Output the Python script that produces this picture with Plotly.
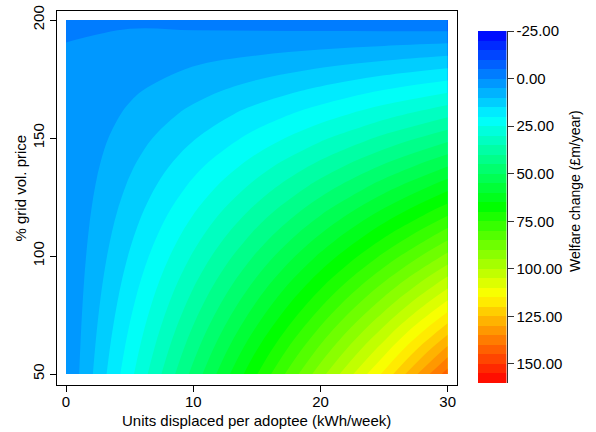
import colorsys
import plotly.graph_objects as go

# ---- data ----
x_units = [0, 5, 10, 15, 20, 25, 30]                     # kWh/week displaced per adoptee
y_price = [50, 60, 70, 80, 90, 100, 110, 120, 130, 140,
           150, 160, 170, 180, 190, 200]                 # % grid vol. price
# welfare change (£m/year), rows follow y_price, columns follow x_units
welfare = [
    [0.2, 23.4, 46.6, 69.8, 93.0, 116.2, 142.5],
    [0.2, 21.8, 43.4, 65.1, 86.6, 108.2, 132.0],
    [0.2, 20.2, 40.2, 60.2, 80.2, 100.2, 121.5],
    [0.2, 18.6, 37.0, 55.4, 73.8, 92.2, 111.2],
    [0.2, 17.0, 33.8, 50.6, 67.4, 84.2, 101.3],
    [0.2, 15.4, 30.6, 45.8, 61.0, 76.2, 91.4],
    [0.2, 13.8, 27.4, 41.0, 54.6, 68.2, 81.8],
    [0.2, 12.2, 24.2, 36.2, 48.2, 60.2, 72.2],
    [0.2, 10.6, 21.0, 31.4, 41.8, 52.2, 62.6],
    [0.2, 9.0, 17.8, 26.6, 35.4, 44.2, 53.0],
    [0.2, 7.4, 14.6, 21.8, 29.0, 36.2, 43.4],
    [0.2, 5.8, 11.4, 17.1, 22.6, 28.2, 33.8],
    [0.2, 4.2, 8.2, 12.2, 16.2, 20.3, 24.2],
    [0.2, 2.6, 5.1, 7.4, 9.8, 12.2, 14.6],
    [0.05, 1.0, 1.8, 2.6, 3.4, 4.2, 5.1],
    [-1.0, -0.6, -1.4, -2.2, -3.0, -3.8, -4.6],
]
x_ticks = [0, 10, 20, 30]
y_ticks = [50, 100, 150, 200]
cbar_ticks = [-25, 0, 25, 50, 75, 100, 125, 150]
cbar_labels = ["-25.00", "0.00", "25.00", "50.00", "75.00", "100.00", "125.00", "150.00"]
level_start, level_end, level_step = -25, 160, 5

# rainbow (hue) colour ramp: blue at low end, red at high end
n = 48
colorscale = []
for i in range(n + 1):
    t = i / n
    r, g, b = colorsys.hsv_to_rgb((240 * (1 - t)) / 360.0, 1, 1)
    colorscale.append([t, f"rgb({int(round(r*255))},{int(round(g*255))},{int(round(b*255))})"])

# contour band centres for the legend bar
n_levels = int(round((level_end - level_start) / level_step))
band_mid = [level_start + level_step * (k + 0.5) for k in range(n_levels)]

W, H = 596, 432
L, R, T, B = 57, 457, 11, 385     # plot frame in pixels
MR = 0
paper_w = W - L - MR
ph = B - T

def px(xp):
    return (xp - L) / paper_w

def py(yp):
    return (B - yp) / ph

font = "Liberation Sans, Arial, Helvetica, sans-serif"

fig = go.Figure()
fig.add_trace(go.Contour(
    x=x_units, y=y_price, z=welfare,
    autocontour=False,
    contours=dict(start=level_start, end=level_end, size=level_step,
                  coloring="fill", showlines=False),
    line=dict(width=0),
    colorscale=colorscale, zmin=level_start, zmax=level_end, zauto=False,
    showscale=False,
    hoverinfo="skip",
))

# legend bar (low values on top, as in the reference)
fig.add_trace(go.Heatmap(
    x=[0], y=band_mid, z=[[v] for v in band_mid],
    colorscale=colorscale, zmin=level_start, zmax=level_end,
    showscale=False, xaxis="x2", yaxis="y2", hoverinfo="skip",
))

x0r = 0 - (66 - L) / 12.723
x1r = 30 + (R - 447.7) / 12.723
y1r = 200 + (20 - T) / 2.36
y0r = 50 - (B - 374) / 2.36

axis_font = dict(family=font, size=15, color="black")
fig.update_layout(
    xaxis=dict(domain=[0, px(R)], range=[x0r, x1r], tickmode="array", tickvals=x_ticks,
               ticks="outside", ticklen=6, tickcolor="black", tickwidth=1,
               ticklabelstandoff=-3,
               showline=True, linecolor="black", linewidth=1, mirror=True,
               showgrid=False, zeroline=False, tickfont=axis_font),
    yaxis=dict(domain=[0, 1], range=[y0r, y1r], tickmode="array", tickvals=y_ticks,
               ticks="outside", ticklen=6, tickcolor="black", tickwidth=1, tickangle=-90,
               showline=True, linecolor="black", linewidth=1, mirror=True,
               showgrid=False, zeroline=False, tickfont=axis_font),
    xaxis2=dict(domain=[px(478), px(506.5)], range=[-0.5, 0.5], visible=False,
                anchor="y2", fixedrange=True),
    yaxis2=dict(domain=[py(383), py(31)], range=[level_end, level_start], anchor="x2",
                side="right", tickmode="array", tickvals=cbar_ticks, ticktext=cbar_labels,
                ticks="outside", ticklen=6, tickcolor="#333", tickwidth=1,
                showline=True, linecolor="#333", linewidth=1, fixedrange=True,
                showgrid=False, zeroline=False, tickfont=axis_font),
)

fig.add_annotation(text="Units displaced per adoptee (kWh/week)", xref="paper", yref="paper",
                   x=px(256.7), y=py(420), xanchor="center", yanchor="middle",
                   showarrow=False, font=dict(family=font, size=15, color="black"))
fig.add_annotation(text="% grid vol. price", xref="paper", yref="paper",
                   x=px(20), y=py(188.5), xanchor="center", yanchor="middle", textangle=-90,
                   showarrow=False, font=dict(family=font, size=15, color="black"))
fig.add_annotation(text="Welfare change (£m/year)", xref="paper", yref="paper",
                   x=px(575), y=py(191), xanchor="center", yanchor="middle", textangle=-90,
                   showarrow=False, font=dict(family=font, size=14, color="black"))

fig.update_layout(width=W, height=H, margin=dict(l=L, r=MR, t=T, b=H - B, autoexpand=False),
                  paper_bgcolor="white", plot_bgcolor="white", showlegend=False)

fig.write_html("out.html", config={"displayModeBar": False},
               post_script="document.body.style.margin='0px';")
